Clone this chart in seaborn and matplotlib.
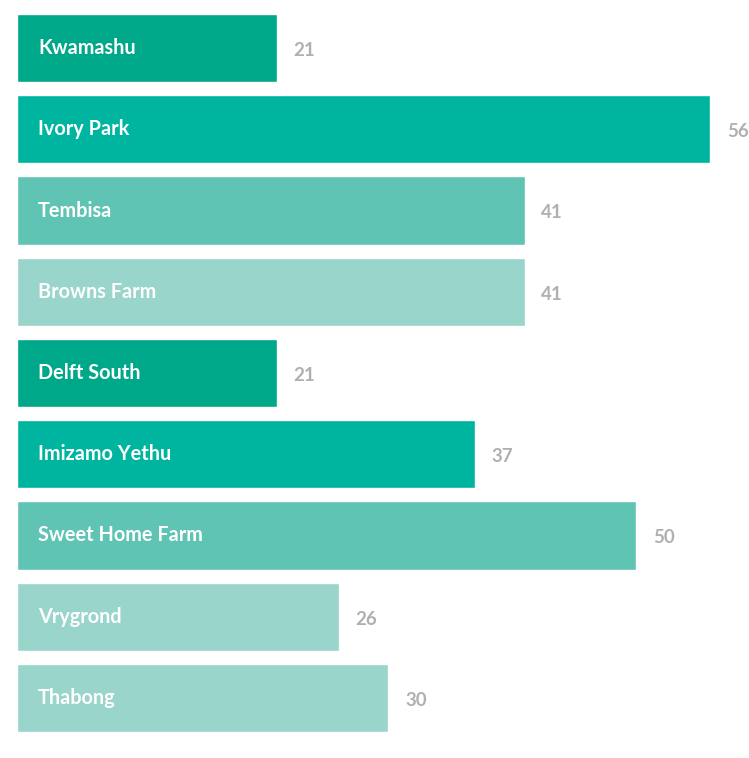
import matplotlib
matplotlib.use("Agg")
import matplotlib.pyplot as plt
import seaborn as sns
import pandas as pd

names = ["Kwamashu", "Ivory Park", "Tembisa", "Browns Farm", "Delft South",
         "Imizamo Yethu", "Sweet Home Farm", "Vrygrond", "Thabong"]
values = [21, 56, 41, 41, 21, 37, 50, 26, 30]
colors = ["#00a88a", "#00b59f", "#5fc4b3", "#99d5ca", "#00a88a",
          "#00b59f", "#5fc4b3", "#99d5ca", "#99d5ca"]

df = pd.DataFrame({"name": names, "value": values})

sns.set_theme(style="white")
plt.rcParams["font.family"] = ["Lato", "DejaVu Sans"]

fig = plt.figure(figsize=(7.49, 7.58), dpi=100)
ax = fig.add_axes([17 / 749, 1 - 738.6 / 758, 1 - 17 / 749, (738.6 - 7.4) / 758])

sns.barplot(data=df, x="value", y="name", hue="name", palette=colors,
            legend=False, orient="h", width=0.84, ax=ax, saturation=1)

ax.set_xlim(0, (749 - 17) / 12.38)
for i, (n, v) in enumerate(zip(names, values)):
    ax.text(1.7, i, n, color="white", fontsize=14.3, fontweight="bold",
            va="center", ha="left")
    ax.text(v + 1.35, i + 0.03, str(v), color="#b0b0b0", fontsize=13.5,
            fontweight="bold", va="center", ha="left")

ax.set_xlabel("")
ax.set_ylabel("")
ax.set_xticks([])
ax.set_yticks([])
sns.despine(ax=ax, left=True, bottom=True)

fig.savefig("out.png", dpi=100, facecolor="white")
